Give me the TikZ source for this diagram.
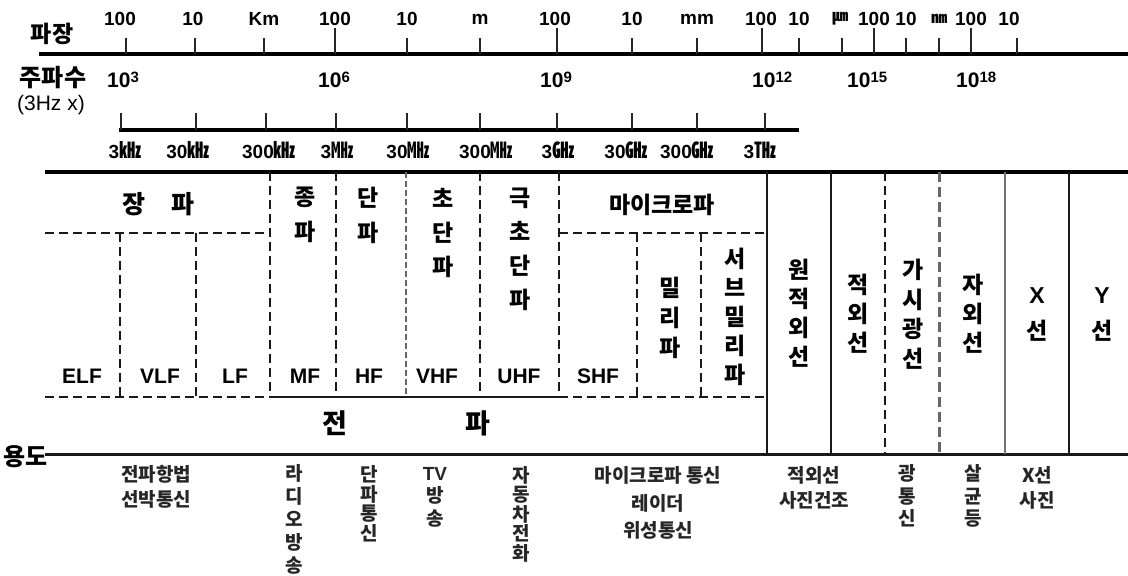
\documentclass[tikz,border=0pt]{standalone}
\usepackage{fontspec}
\setmainfont{Noto Sans CJK KR}
\newfontfamily\kr{Noto Sans CJK KR}
\newfontfamily\lat{Liberation Sans}
\begin{document}
\begin{tikzpicture}[x=1pt,y=-1pt,
  axisln/.style={line width=4pt,black},
  tickln/.style={line width=2pt,black!85},
  dsh/.style={line width=2pt,dash pattern=on 9pt off 5pt,black!90},
  solidv/.style={line width=2pt,black!90},
  toplbl/.style={font=\lat\fontsize{19}{19}\selectfont\bfseries,inner sep=0pt},
  explbl/.style={font=\lat\fontsize{21}{21}\selectfont\bfseries,inner sep=0pt,anchor=west},
  frqlbl/.style={font=\lat\fontsize{19}{19}\selectfont\bfseries,inner sep=0pt},
  band/.style={font=\lat\fontsize{21}{21}\selectfont\bfseries,inner sep=0pt},
  vs/.style 2 args={font=\fontsize{#1}{#2}\selectfont\bfseries,align=center,inner sep=0pt},
  use/.style 2 args={font=\fontsize{#1}{#2}\selectfont\bfseries,align=center,inner sep=0pt,black!85}
]
\fill[white] (0,0) rectangle (1128,576);
\useasboundingbox (0,0) rectangle (1128,576);

% ---------- wavelength axis ----------
\node[vs={23}{23}] (wlname) at (52,34) {파장};
\draw[axisln] (39,54) -- (1128,54);
\foreach \x in {126,195,264,407,480,632,697,799,842,906,939,1017}
  \draw[tickln] (\x,38) -- (\x,54);
\foreach \x in {335,557,762,874,971}
  \draw[tickln] (\x,28) -- (\x,54);
\foreach \x/\t [count=\i] in {120/100,193/10,264/Km,335/100,407/10,480/m,555/100,632/10,697/mm,761/100,799/10,840/{{\kr\fontsize{16}{16}\selectfont ㎛}},874/100,906/10,939/{{\kr\fontsize{16}{16}\selectfont ㎚}},971/100,1009/10}
  \node[toplbl] (wl\i) at (\x,19) {\t};

% ---------- frequency ----------
\node[vs={24}{24}] (fqname) at (53,78) {주파수};
\node[font=\lat\fontsize{21}{21}\selectfont,inner sep=0pt] (fqmul) at (51,105) {(3Hz x)};
\foreach \x/\e [count=\i] in {107/3,318/6,540/9,752/12,847/15,956/18}
  \node[explbl] (ex\i) at (\x,80) {10\raisebox{5pt}{\fontsize{15}{15}\selectfont\e}};
\draw[line width=3.5pt] (119,130) -- (799,130);
\foreach \x in {121,196,266,336,407,480,557,632,697,765}
  \draw[tickln] (\x,113) -- (\x,130);
\foreach \x/\t [count=\i] in {125/{3{\kr\fontsize{22}{22}\selectfont ㎑}},188/{30{\kr\fontsize{22}{22}\selectfont ㎑}},269/{300{\kr\fontsize{22}{22}\selectfont ㎑}},337/{3{\kr\fontsize{22}{22}\selectfont ㎒}},408/{30{\kr\fontsize{22}{22}\selectfont ㎒}},486/{300{\kr\fontsize{22}{22}\selectfont ㎒}},558/{3{\kr\fontsize{22}{22}\selectfont ㎓}},626/{30{\kr\fontsize{22}{22}\selectfont ㎓}},687/{300{\kr\fontsize{22}{22}\selectfont ㎓}},760/{3{\kr\fontsize{22}{22}\selectfont ㎔}}}
  \node[frqlbl] (fl\i) at (\x,150) {\t};

% ---------- table frame ----------
\draw[axisln] (45,172) -- (1128,172);
\draw[line width=3pt,black!90] (45,454) -- (1128,454);
\node[vs={24}{24}] (usename) at (26,457) {용도};

% radio band grid
\draw[dsh] (45,233) -- (270,233);
\draw[dsh] (45,397) -- (270,397);
\draw[line width=2.5pt,black!90] (270,397) -- (559,397);
\draw[dsh] (559,397) -- (767,397);
\draw[dsh] (559,233) -- (767,233);
\foreach \x in {120,196,637,701}
  \draw[dsh] (\x,233) -- (\x,397);
\foreach \x in {270,336,480,559}
  \draw[dsh] (\x,172) -- (\x,397);
\draw[line width=2.5pt,black!60,dash pattern=on 6pt off 3pt] (406,172) -- (406,397);
\foreach \x in {767,831,1069}
  \draw[solidv] (\x,172) -- (\x,454);
\draw[line width=2.5pt,black!55] (1005,172) -- (1005,454);
\draw[dsh] (885,172) -- (885,454);
\draw[line width=3pt,black!60,dash pattern=on 10pt off 5pt] (939,172) -- (939,454);

% band names
\node[vs={25}{25}] (jang) at (158,204) {장\hspace{26pt}파};
\node[vs={23}{35}] (jung) at (305,215) {종\\파};
\node[vs={23}{35}] (dan) at (368,215) {단\\파};
\node[vs={23}{34}] (chodan) at (443,233) {초\\단\\파};
\node[vs={23}{34}] (geuk) at (520,249) {극\\초\\단\\파};
\node[vs={23}{23}] (micro) at (662,205) {마이크로파};
\node[vs={23}{30}] (milli) at (670,318) {밀\\리\\파};
\node[vs={23}{29}] (submilli) at (735,317) {서\\브\\밀\\리\\파};
\foreach \x/\t [count=\i] in {82/ELF,160/VLF,235/LF,305/MF,369/HF,437/VHF,519/UHF,598/SHF}
  \node[band] (bd\i) at (\x,376) {\t};
\node[vs={27}{27}] (jeon) at (335,423) {전};
\node[vs={27}{27}] (pa) at (478,423) {파};
\node[vs={23}{29}] (farir) at (799,313) {원\\적\\외\\선};
\node[vs={23}{29}] (ir) at (858,314) {적\\외\\선};
\node[vs={23}{29.5}] (vis) at (913,314) {가\\시\\광\\선};
\node[vs={23}{29}] (uv) at (973,314) {자\\외\\선};
\node[vs={23}{36}] (xray) at (1037,315) {{\lat X}\\선};
\node[vs={23}{36}] (gamma) at (1102,315) {{\lat Y}\\선};

% ---------- uses ----------
\node[use={19}{25}] (u1) at (156,487) {전파항법\\선박통신};
\node[use={19}{23}] (u2) at (294,519) {라\\디\\오\\방\\송};
\node[use={19}{19.5}] (u3) at (369,504) {단\\파\\통\\신};
\node[use={19}{22.5}] (u4) at (435,497) {{\lat TV}\\방\\송};
\node[use={19}{19.5}] (u5) at (521,514) {자\\동\\차\\전\\화};
\node[use={19}{27.5}] (u6) at (658,503) {마이크로파 통신\\레이더\\위성통신};
\node[use={19}{25}] (u7) at (814,488) {적외선\\사진건조};
\node[use={19}{22.5}] (u8) at (907,496) {광\\통\\신};
\node[use={19}{22.5}] (u9) at (973,496) {살\\균\\등};
\node[use={19}{25}] (u10) at (1037,488) {X선\\사진};
\end{tikzpicture}
\end{document}
